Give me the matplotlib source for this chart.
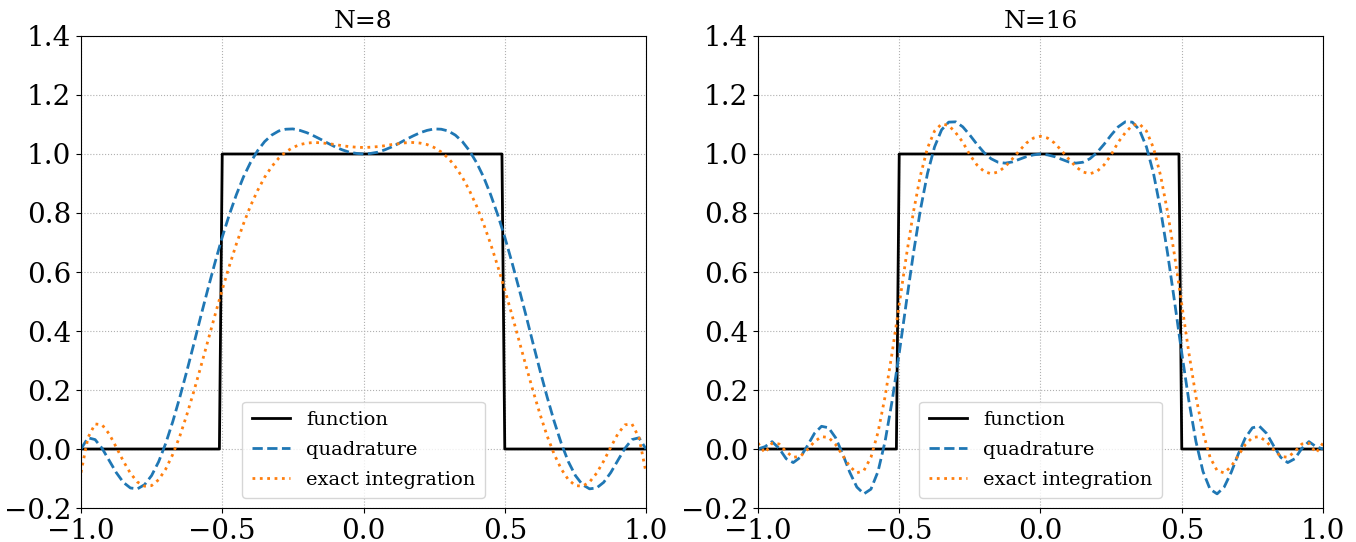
import numpy as np
import matplotlib.pyplot as plt

plt.rcParams['font.family'] = 'serif'
plt.rcParams['font.serif'] = ['DejaVu Serif']

# sample points (x from -1 to 1 in steps of 0.025)
x = [-1.0, -0.975, -0.95, -0.925, -0.9, -0.875, -0.85, -0.825, -0.8, -0.775,
     -0.75, -0.725, -0.7, -0.675, -0.65, -0.625, -0.6, -0.575, -0.55, -0.525,
     -0.5, -0.475, -0.45, -0.425, -0.4, -0.375, -0.35, -0.325, -0.3, -0.275,
     -0.25, -0.225, -0.2, -0.175, -0.15, -0.125, -0.1, -0.075, -0.05, -0.025,
     0.0, 0.025, 0.05, 0.075, 0.1, 0.125, 0.15, 0.175, 0.2, 0.225,
     0.25, 0.275, 0.3, 0.325, 0.35, 0.375, 0.4, 0.425, 0.45, 0.475,
     0.5, 0.525, 0.55, 0.575, 0.6, 0.625, 0.65, 0.675, 0.7, 0.725,
     0.75, 0.775, 0.8, 0.825, 0.85, 0.875, 0.9, 0.925, 0.95, 0.975, 1.0]

# box function
x_func = [-1.0, -0.51, -0.5, 0.49, 0.5, 1.0]
y_func = [0, 0, 1, 1, 0, 0]

# N=8
quad_8 = [0.000, 0.038, 0.032, 0.002, -0.039, -0.080, -0.113, -0.132, -0.135, -0.121,
          -0.090, -0.043, 0.019, 0.093, 0.176, 0.265, 0.358, 0.453, 0.545, 0.634,
          0.718, 0.794, 0.862, 0.922, 0.971, 1.011, 1.042, 1.064, 1.078, 1.084,
          1.085, 1.080, 1.072, 1.061, 1.049, 1.036, 1.024, 1.014, 1.006, 1.002,
          1.000, 1.002, 1.006, 1.014, 1.024, 1.036, 1.049, 1.061, 1.072, 1.080,
          1.085, 1.084, 1.078, 1.064, 1.042, 1.011, 0.971, 0.922, 0.862, 0.794,
          0.718, 0.634, 0.545, 0.453, 0.358, 0.265, 0.176, 0.093, 0.019, -0.043,
          -0.090, -0.121, -0.135, -0.132, -0.113, -0.080, -0.039, 0.002, 0.032, 0.038, 0.000]
exact_8 = [-0.080, 0.039, 0.085, 0.082, 0.051, 0.006, -0.041, -0.082, -0.112, -0.126,
           -0.124, -0.104, -0.068, -0.018, 0.044, 0.117, 0.197, 0.282, 0.369, 0.456,
           0.540, 0.620, 0.695, 0.763, 0.824, 0.876, 0.921, 0.957, 0.986, 1.007,
           1.022, 1.032, 1.037, 1.039, 1.038, 1.035, 1.032, 1.028, 1.025, 1.023,
           1.022, 1.023, 1.025, 1.028, 1.032, 1.035, 1.038, 1.039, 1.037, 1.032,
           1.022, 1.007, 0.986, 0.957, 0.921, 0.876, 0.824, 0.763, 0.695, 0.620,
           0.540, 0.456, 0.369, 0.282, 0.197, 0.117, 0.044, -0.018, -0.068, -0.104,
           -0.124, -0.126, -0.112, -0.082, -0.041, 0.006, 0.051, 0.082, 0.085, 0.039, -0.080]

# N=16
quad_16 = [0.000, 0.008, 0.025, 0.002, -0.033, -0.046, -0.028, 0.011, 0.053, 0.077,
           0.072, 0.038, -0.017, -0.079, -0.129, -0.152, -0.136, -0.076, 0.026, 0.164,
           0.325, 0.496, 0.662, 0.811, 0.934, 1.024, 1.082, 1.108, 1.109, 1.092,
           1.064, 1.033, 1.005, 0.984, 0.972, 0.969, 0.973, 0.982, 0.991, 0.997,
           1.000, 0.997, 0.991, 0.982, 0.973, 0.969, 0.972, 0.984, 1.005, 1.033,
           1.064, 1.092, 1.109, 1.108, 1.082, 1.024, 0.934, 0.811, 0.662, 0.496,
           0.325, 0.164, 0.026, -0.076, -0.136, -0.152, -0.129, -0.079, -0.017, 0.038,
           0.072, 0.077, 0.053, 0.011, -0.028, -0.046, -0.033, 0.002, 0.025, 0.008, 0.000]
exact_16 = [0.020, -0.013, 0.020, 0.017, -0.009, -0.028, -0.025, -0.002, 0.025, 0.042,
            0.039, 0.015, -0.022, -0.059, -0.081, -0.073, -0.028, 0.057, 0.178, 0.327,
            0.490, 0.653, 0.802, 0.927, 1.020, 1.078, 1.102, 1.097, 1.072, 1.040,
            0.997, 0.963, 0.941, 0.933, 0.939, 0.957, 0.983, 1.011, 1.037, 1.054,
            1.060, 1.054, 1.037, 1.011, 0.983, 0.957, 0.939, 0.933, 0.941, 0.963,
            0.997, 1.040, 1.072, 1.097, 1.102, 1.078, 1.020, 0.927, 0.802, 0.653,
            0.490, 0.327, 0.178, 0.057, -0.028, -0.073, -0.081, -0.059, -0.022, 0.015,
            0.039, 0.042, 0.025, -0.002, -0.025, -0.028, -0.009, 0.017, 0.020, -0.013, 0.020]

titles = ['N=8', 'N=16']
quads = [quad_8, quad_16]
exacts = [exact_8, exact_16]

fig, axes = plt.subplots(1, 2, figsize=(13.56, 5.42), dpi=100)
plt.subplots_adjust(left=0.0597, right=0.9757, bottom=0.0627, top=0.9336, wspace=0.198)

for ax, title, q, e in zip(axes, titles, quads, exacts):
    ax.plot(x_func, y_func, color='black', linewidth=2, label='function')
    ax.plot(x, q, color='C0', linestyle='--', linewidth=2, label='quadrature')
    ax.plot(x, e, color='C1', linestyle=':', linewidth=2, label='exact integration')
    ax.set_xlim(-1, 1)
    ax.set_ylim(-0.2, 1.4)
    ax.set_xticks([-1.0, -0.5, 0.0, 0.5, 1.0])
    ax.set_yticks([-0.2, 0.0, 0.2, 0.4, 0.6, 0.8, 1.0, 1.2, 1.4])
    ax.tick_params(labelsize=20)
    ax.set_title(title, fontsize=18)
    ax.grid(True, linestyle=':')
    ax.legend(loc='lower center', fontsize=14, labelspacing=0.6, borderpad=0.5)

plt.savefig('out.png')
